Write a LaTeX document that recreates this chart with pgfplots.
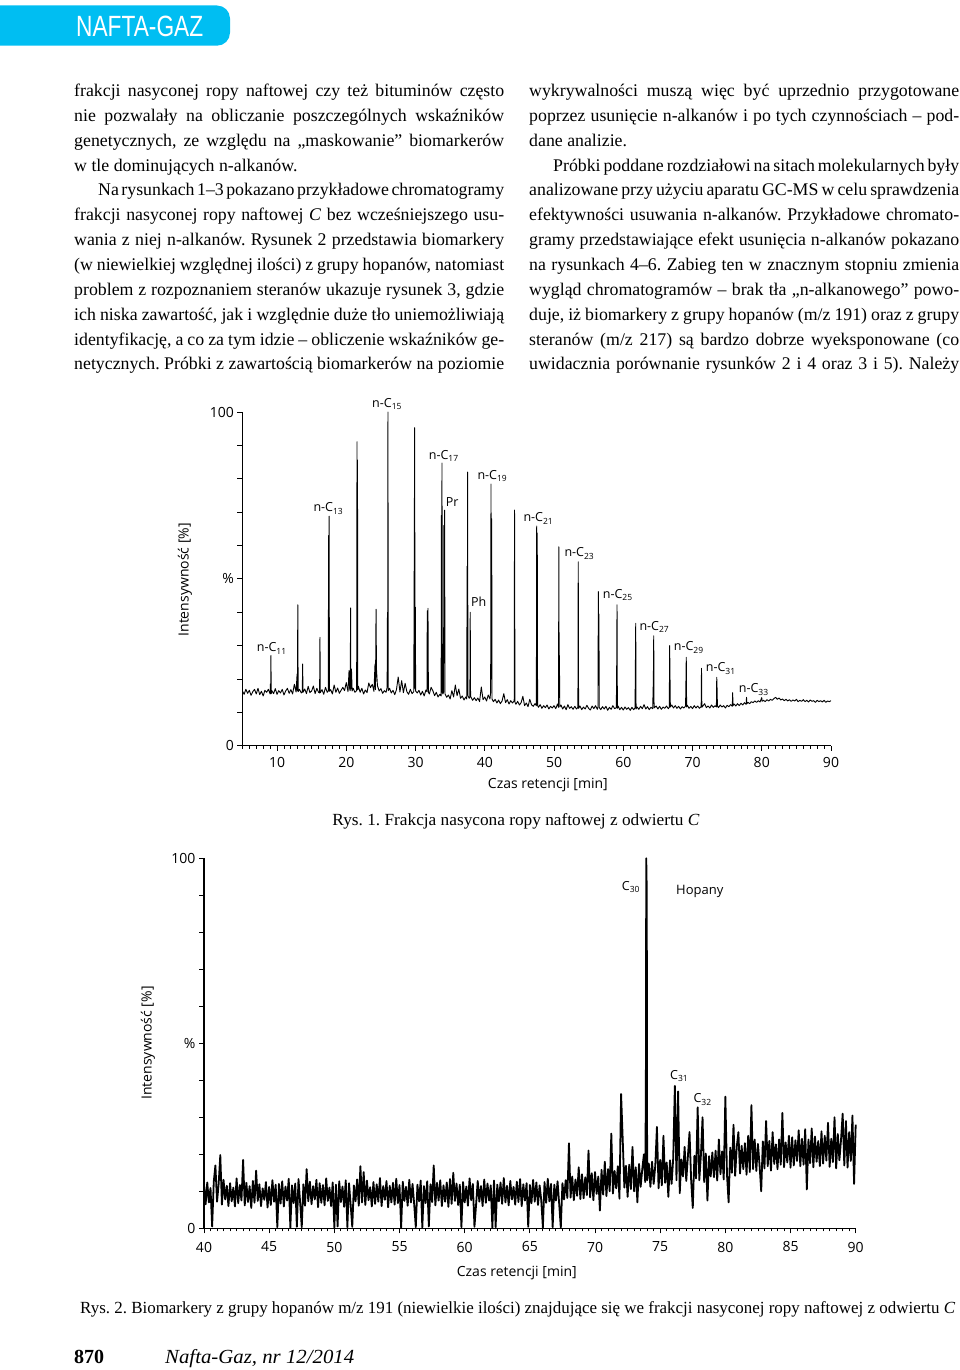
\documentclass[border=0pt]{standalone}
\usepackage{fontspec}
\setmainfont{Liberation Serif}
\newfontfamily\osans{Open Sans}
\newfontfamily\hdrfont{Liberation Sans}
\usepackage{graphicx}
\usepackage{pgfplots}
\pgfplotsset{compat=1.18}
\definecolor{nafta}{RGB}{0,190,242}

\newcommand\jline[1]{\hbox to 430pt{#1}}
\newcommand\lline[1]{\hbox{#1}}
\newcommand\sub[1]{\raisebox{-2.6pt}{\fontsize{8.5}{9}\selectfont #1}}
\newcommand\lab{\osans\fontsize{12.5}{14}\selectfont}
\newcommand\bodyfont{\fontsize{17.8}{24.85}\selectfont\frenchspacing
  \spaceskip=.25em plus .2em minus .12em\relax
  \lineskiplimit=-100pt \hsize=430pt}

\pgfplotsset{
  chrom/.style={
    scale only axis, axis lines=left,
    axis line style={-, line width=1.1pt},
    tick align=outside, tick style={black, line width=0.9pt},
    major tick length=5pt, minor tick length=3pt,
    ymin=0, ymax=100, ytick={0,10,...,100},
    yticklabels={0,{},{},{},{},\%,{},{},{},{},100},
    ticklabel style={font=\osans\fontsize{14}{16}\selectfont},
    /pgf/number format/assume math mode=true,
    label style={font=\osans\fontsize{14}{16}\selectfont},
    clip=false,
  }
}

\begin{document}
\frenchspacing
\begin{tikzpicture}
\path[use as bounding box] (0,0) rectangle (960pt,-1370pt);

% header
\fill[nafta, rounded corners=13pt] (-30pt,-5.5pt) rectangle (230pt,-45.7pt);
\node[anchor=base west, inner sep=0, text=white] at (76pt,-36.7pt)
  {\resizebox{127pt}{\height}{\fontsize{29.3}{30}\hdrfont NAFTA-GAZ}};

% left column
\node[anchor=base west, inner sep=0] at (74pt,-96.5pt) {\vtop{\bodyfont
\jline{frakcji nasyconej ropy naftowej czy też bituminów często}
\jline{nie pozwalały na obliczanie poszczególnych wskaźników}
\jline{genetycznych, ze względu na „maskowanie” biomarkerów}
\lline{w tle dominujących n-alkanów.}
\jline{\hskip24pt Na rysunkach 1–3 pokazano przykładowe chromatogramy}
\jline{frakcji nasyconej ropy naftowej \textit{C} bez wcześniejszego usu-}
\jline{wania z niej n-alkanów. Rysunek 2 przedstawia biomarkery}
\jline{(w niewielkiej względnej ilości) z grupy hopanów, natomiast}
\jline{problem z rozpoznaniem steranów ukazuje rysunek 3, gdzie}
\jline{ich niska zawartość, jak i względnie duże tło uniemożliwiają}
\jline{identyfikację, a co za tym idzie – obliczenie wskaźników ge-}
\jline{netycznych. Próbki z zawartością biomarkerów na poziomie}}};

% right column
\node[anchor=base west, inner sep=0] at (529pt,-96.5pt) {\vtop{\bodyfont
\jline{wykrywalności muszą więc być uprzednio przygotowane}
\jline{poprzez usunięcie n-alkanów i po tych czynnościach – pod-}
\lline{dane analizie.}
\jline{\hskip24pt Próbki poddane rozdziałowi na sitach molekularnych były}
\jline{analizowane przy użyciu aparatu GC-MS w celu sprawdzenia}
\jline{efektywności usuwania n-alkanów. Przykładowe chromato-}
\jline{gramy przedstawiające efekt usunięcia n-alkanów pokazano}
\jline{na rysunkach 4–6. Zabieg ten w znacznym stopniu zmienia}
\jline{wygląd chromatogramów – brak tła „n-alkanowego” powo-}
\jline{duje, iż biomarkery z grupy hopanów (m/z 191) oraz z grupy}
\jline{steranów (m/z 217) są bardzo dobrze wyeksponowane (co}
\jline{uwidacznia porównanie rysunków 2 i 4 oraz 3 i 5). Należy}}};

% ---------- Rys. 1 ----------
\begin{axis}[chrom,
  at={(242.4pt,-745.7pt)}, anchor=south west,
  width=588.6pt, height=333.7pt,
  xmin=5, xmax=90,
  xtick={10,20,...,90}, minor xtick={5,6,...,90},
  xticklabel style={yshift=-3pt},
  xlabel={Czas retencji [min]}, ylabel={Intensywność [\%]},
  xlabel style={at={(axis description cs:0.519,-0.118)}, anchor=center},
  ylabel style={at={(axis description cs:-0.0975,0.497)}, anchor=center},
]
\addplot[black, line width=0.9pt, line join=round, mark=none] coordinates {
(5.00,16.4)(5.25,15.4)(5.50,16.9)(5.75,15.7)(6.00,16.6)(6.25,15.1)(6.50,16.2)(6.75,16.9)
(7.00,15.5)(7.25,17.2)(7.50,15.3)(7.75,16.3)(8.00,14.9)(8.25,16.6)(8.50,16.0)(8.75,16.9)
(9.00,15.5)(9.05,18.5)(9.08,15.8)(9.12,27.0)(9.16,15.6)(9.25,16.5)(9.50,15.6)(9.75,17.1)
(10.00,15.4)(10.25,16.5)(10.50,15.8)(10.75,16.9)(11.00,15.2)(11.25,16.4)(11.50,17.2)(11.75,15.7)
(12.00,16.8)(12.25,15.5)(12.50,18.4)(12.75,16.1)(12.90,21.5)(12.95,16.5)(13.00,42.2)(13.05,16.2)
(13.25,16.9)(13.50,15.8)(13.65,16.2)(13.70,24.5)(13.75,16.0)(14.00,17.0)(14.25,15.6)(14.50,17.8)
(14.75,15.9)(15.00,16.4)(15.25,17.9)(15.50,15.6)(15.75,17.2)(16.00,16.0)(16.15,15.8)(16.20,32.5)
(16.25,15.9)(16.50,16.8)(16.75,15.4)(17.00,17.5)(17.25,16.0)(17.40,16.4)(17.45,63.0)(17.48,18.0)
(17.52,68.8)(17.57,16.3)(17.75,16.8)(18.00,15.5)(18.25,18.2)(18.50,16.0)(18.75,17.3)(19.00,15.7)
(19.25,16.6)(19.50,17.5)(19.75,16.5)(20.00,18.9)(20.25,16.2)(20.40,22.5)(20.50,16.8)(20.58,16.5)
(20.62,41.3)(20.66,17.0)(20.75,23.0)(20.85,16.4)(21.00,17.2)(21.25,16.0)(21.50,16.5)(21.55,91.1)
(21.58,20.0)(21.62,85.6)(21.66,16.8)(21.75,17.8)(22.00,16.0)(22.25,17.2)(22.50,15.5)(22.75,16.7)
(23.00,15.9)(23.25,18.8)(23.50,17.4)(23.75,18.4)(24.00,16.3)(24.15,24.5)(24.22,16.8)(24.30,40.9)
(24.36,23.0)(24.50,18.0)(24.75,16.4)(25.00,17.1)(25.25,15.7)(25.50,16.5)(25.75,16.0)(25.90,17.5)
(25.95,40.0)(25.98,18.0)(26.02,100.0)(26.06,16.5)(26.25,17.2)(26.50,15.8)(26.75,16.6)(27.00,15.3)
(27.25,16.8)(27.50,20.6)(27.75,16.1)(28.00,19.5)(28.25,15.9)(28.50,18.7)(28.75,16.2)(29.00,15.4)
(29.25,16.9)(29.50,15.6)(29.75,16.2)(29.88,95.3)(29.92,17.0)(29.97,41.5)(30.02,16.4)(30.25,15.8)
(30.50,16.6)(30.75,15.2)(31.00,16.3)(31.25,14.9)(31.50,16.7)(31.65,16.2)(31.70,40.4)(31.74,17.0)
(31.80,41.2)(31.86,16.0)(32.00,15.5)(32.25,17.5)(32.50,16.5)(32.75,15.0)(33.00,16.0)(33.25,14.6)
(33.50,15.4)(33.70,14.9)(33.74,69.0)(33.78,20.0)(33.82,84.7)(33.88,16.0)(33.95,15.5)(34.05,16.0)
(34.10,66.0)(34.14,40.0)(34.20,70.6)(34.26,15.5)(34.50,14.5)(34.75,15.2)(35.00,14.0)(35.25,16.5)
(35.50,14.6)(35.75,18.2)(36.00,15.0)(36.25,17.0)(36.50,14.2)(36.75,14.9)(37.00,13.7)(37.25,14.6)
(37.40,14.0)(37.45,53.8)(37.48,20.0)(37.52,82.0)(37.57,15.0)(37.75,14.2)(37.85,14.6)(37.90,40.0)
(37.95,14.8)(38.25,13.6)(38.50,14.4)(38.75,13.5)(39.00,14.3)(39.25,13.2)(39.50,17.6)(39.75,13.8)
(40.00,14.6)(40.25,13.4)(40.50,15.2)(40.75,14.0)(40.85,16.0)(40.90,78.4)(40.95,20.0)(41.00,68.0)
(41.05,14.0)(41.25,13.2)(41.50,13.9)(41.75,12.8)(42.00,13.7)(42.25,12.6)(42.50,13.4)(42.75,15.6)
(43.00,12.9)(43.25,13.8)(43.50,12.5)(43.75,13.5)(44.00,12.8)(44.25,13.4)(44.30,70.6)(44.36,13.0)
(44.50,12.4)(44.75,13.3)(45.00,12.2)(45.25,12.9)(45.50,14.8)(45.75,12.0)(46.00,12.8)(46.25,11.7)
(46.50,13.9)(46.75,12.3)(47.00,11.8)(47.25,12.6)(47.45,12.0)(47.50,65.8)(47.54,20.0)(47.58,63.7)
(47.63,12.1)(47.75,11.5)(48.00,12.3)(48.25,11.2)(48.50,12.0)(48.75,11.4)(49.00,12.2)(49.25,11.0)
(49.50,11.8)(49.75,11.3)(50.00,12.0)(50.25,11.1)(50.50,12.5)(50.65,11.5)(50.70,59.6)(50.74,22.0)
(50.78,27.0)(50.83,11.6)(51.00,12.2)(51.25,11.0)(51.50,11.9)(51.75,10.8)(52.00,12.3)(52.25,11.2)
(52.50,11.7)(52.75,10.9)(53.00,11.8)(53.25,11.0)(53.45,11.5)(53.50,55.1)(53.55,11.2)(53.75,11.9)
(54.00,10.8)(54.25,11.6)(54.50,11.0)(54.75,12.1)(55.00,11.2)(55.25,10.7)(55.50,11.9)(55.75,11.1)
(56.00,12.0)(56.25,10.9)(56.35,11.6)(56.40,46.2)(56.44,25.0)(56.48,39.5)(56.54,11.4)(56.75,10.8)
(57.00,11.7)(57.25,11.0)(57.50,11.8)(57.75,10.6)(58.00,11.5)(58.25,10.9)(58.50,12.0)(58.75,11.1)
(59.00,11.4)(59.05,23.0)(59.10,42.2)(59.15,11.2)(59.25,11.9)(59.50,10.8)(59.75,11.5)(60.00,10.7)
(60.25,11.6)(60.50,10.9)(60.75,11.4)(61.00,10.6)(61.25,11.5)(61.50,10.8)(61.70,11.3)(61.75,23.0)
(61.80,36.7)(61.85,11.0)(62.00,11.6)(62.25,10.9)(62.50,11.8)(62.75,11.1)(63.00,12.3)(63.25,11.0)
(63.50,11.7)(63.75,10.8)(64.00,11.5)(64.25,11.1)(64.35,20.0)(64.40,32.9)(64.45,11.3)(64.75,11.9)
(65.00,11.0)(65.25,11.8)(65.50,10.9)(65.75,11.6)(66.00,11.2)(66.25,11.9)(66.50,11.1)(66.65,11.5)
(66.70,30.0)(66.75,21.0)(66.80,11.6)(67.00,12.2)(67.25,11.3)(67.50,12.0)(67.75,11.2)(68.00,11.8)
(68.25,11.0)(68.50,11.7)(68.75,11.3)(69.00,11.9)(69.05,19.0)(69.10,26.5)(69.15,11.6)(69.25,12.1)
(69.50,11.2)(69.75,11.8)(70.00,11.1)(70.25,12.0)(70.50,11.3)(70.75,11.9)(71.00,11.2)(71.25,11.7)
(71.30,23.2)(71.35,11.5)(71.50,11.9)(71.75,12.6)(72.00,11.4)(72.25,11.9)(72.50,11.3)(72.75,12.2)
(73.00,11.5)(73.25,12.0)(73.45,11.6)(73.50,20.5)(73.55,17.0)(73.60,11.9)(73.75,11.4)(74.00,12.2)
(74.25,11.6)(74.50,12.0)(74.75,11.3)(75.00,12.1)(75.25,11.7)(75.50,12.3)(75.75,11.8)(75.80,15.9)
(75.85,12.0)(76.00,12.5)(76.25,11.9)(76.50,12.6)(76.75,12.0)(77.00,12.7)(77.25,12.2)(77.50,12.9)
(77.75,12.4)(77.80,14.5)(77.85,12.6)(78.00,13.0)(78.25,12.6)(78.50,13.2)(78.75,12.9)(79.00,13.4)
(79.25,13.0)(79.50,13.5)(79.75,13.1)(80.00,14.4)(80.05,13.3)(80.25,13.6)(80.50,13.2)(80.75,13.8)
(81.00,13.4)(81.25,13.9)(81.50,13.6)(81.75,14.1)(82.00,14.5)(82.25,13.9)(82.50,14.3)(82.75,13.7)
(83.00,14.0)(83.25,13.5)(83.50,13.9)(83.75,13.4)(84.00,13.8)(84.25,13.3)(84.50,13.7)(84.75,13.4)
(85.00,13.9)(85.25,13.2)(85.50,13.6)(85.75,13.3)(86.00,13.8)(86.25,13.2)(86.50,13.6)(86.75,13.1)
(87.00,13.7)(87.25,13.3)(87.50,13.5)(87.75,13.0)(88.00,13.6)(88.25,13.2)(88.50,13.5)(88.75,13.1)
(89.00,13.6)(89.25,13.0)(89.50,13.4)(89.75,13.2)(90.00,13.5)
};
\end{axis}

% peak labels, Rys. 1
\begin{scope}[every node/.style={anchor=base west, inner sep=0, font=\lab}]
\node at (256.7pt,-651.7pt) {n-C\sub{11}};
\node at (313.3pt,-511.7pt) {n-C\sub{13}};
\node at (372pt,-407.3pt) {n-C\sub{15}};
\node at (428.7pt,-459pt) {n-C\sub{17}};
\node at (445.7pt,-506.7pt) {Pr};
\node at (477.3pt,-479pt) {n-C\sub{19}};
\node at (471pt,-606.7pt) {Ph};
\node at (523.3pt,-521.7pt) {n-C\sub{21}};
\node at (564.3pt,-556.7pt) {n-C\sub{23}};
\node at (602.7pt,-598.3pt) {n-C\sub{25}};
\node at (639.3pt,-630pt) {n-C\sub{27}};
\node at (673.7pt,-650.7pt) {n-C\sub{29}};
\node at (705.7pt,-671.7pt) {n-C\sub{31}};
\node at (738.7pt,-692.7pt) {n-C\sub{33}};
\end{scope}

\node[anchor=base, inner sep=0] at (516pt,-825pt)
  {\resizebox{367pt}{\height}{\fontsize{17}{20}\selectfont Rys. 1. Frakcja nasycona ropy naftowej z odwiertu \textit{C}}};

% ---------- Rys. 2 ----------
\begin{axis}[chrom,
  at={(204pt,-1228.3pt)}, anchor=south west,
  width=651.7pt, height=370pt,
  xmin=40, xmax=90,
  xtick={40,45,...,90}, minor xtick={40,40.5,...,90},
  xticklabel style={yshift=-5pt},
  xlabel={Czas retencji [min]}, ylabel={Intensywność [\%]},
  xlabel style={at={(axis description cs:0.480,-0.121)}, anchor=center},
  ylabel style={at={(axis description cs:-0.0859,0.501)}, anchor=center},
]
\addplot[black, line width=1.8pt, line join=round, mark=none] coordinates {
(40,11.8)(40.125,6.5)(40.25,12.4)(40.375,7.0)(40.5,10.9)(40.625,0.5)(40.75,12.6)(40.875,17.0)
(41,7.2)(41.125,12.0)(41.25,19.8)(41.375,6.4)(41.5,13.1)(41.625,7.8)(41.75,11.5)(41.875,6.0)
(42,12.2)(42.125,7.3)(42.25,11.0)(42.375,5.9)(42.5,13.5)(42.625,6.8)(42.75,11.7)(42.875,7.5)
(43,18.5)(43.125,6.2)(43.25,12.3)(43.375,7.1)(43.5,11.4)(43.625,5.5)(43.75,12.8)(43.875,6.9)
(44,15.6)(44.125,7.4)(44.25,11.9)(44.375,6.0)(44.5,10.8)(44.625,7.7)(44.75,12.5)(44.875,5.6)
(45,11.2)(45.125,6.3)(45.25,13.0)(45.375,7.2)(45.5,11.8)(45.625,0.3)(45.75,12.0)(45.875,6.7)
(46,12.7)(46.125,5.9)(46.25,11.3)(46.375,7.5)(46.5,13.4)(46.625,0.2)(46.75,11.6)(46.875,6.8)
(47,12.1)(47.125,0.4)(47.25,13.3)(47.375,7.0)(47.5,0.3)(47.625,11.9)(47.75,6.1)(47.875,16.0)
(48,7.3)(48.125,12.6)(48.25,6.5)(48.375,11.4)(48.5,7.8)(48.625,13.1)(48.75,5.7)(48.875,12.2)
(49,6.9)(49.125,11.7)(49.25,6.2)(49.375,13.5)(49.5,7.4)(49.625,11.0)(49.75,6.0)(49.875,12.4)
(50,0.2)(50.125,11.8)(50.25,0.5)(50.375,12.7)(50.5,7.1)(50.625,11.3)(50.75,5.8)(50.875,13.0)
(51,0.3)(51.125,12.2)(51.25,6.4)(51.375,0.4)(51.5,11.6)(51.625,7.3)(51.75,13.2)(51.875,6.1)
(52,16.8)(52.125,7.0)(52.25,15.2)(52.375,6.3)(52.5,12.9)(52.625,7.6)(52.75,11.1)(52.875,5.9)
(53,12.5)(53.125,6.6)(53.25,11.9)(53.375,7.2)(53.5,13.6)(53.625,6.0)(53.75,11.4)(53.875,7.7)
(54,12.8)(54.125,5.7)(54.25,11.5)(54.375,7.0)(54.5,12.3)(54.625,6.4)(54.75,13.4)(54.875,6.8)
(55,11.7)(55.125,0.2)(55.25,12.6)(55.375,7.4)(55.5,11.2)(55.625,6.1)(55.75,13.1)(55.875,7.0)
(56,12.0)(56.125,6.5)(56.25,0.3)(56.375,11.8)(56.5,7.3)(56.625,12.9)(56.75,0.2)(56.875,11.4)
(57,6.8)(57.125,12.7)(57.25,0.5)(57.375,11.9)(57.5,7.1)(57.625,17.0)(57.75,6.2)(57.875,12.3)
(58,7.5)(58.125,13.0)(58.25,6.0)(58.375,11.6)(58.5,7.2)(58.625,12.4)(58.75,5.8)(58.875,13.3)
(59,6.6)(59.125,15.0)(59.25,7.4)(59.375,12.1)(59.5,6.3)(59.625,11.8)(59.75,0.3)(59.875,12.5)
(60,7.0)(60.125,11.3)(60.25,6.1)(60.375,13.5)(60.5,7.6)(60.625,12.0)(60.75,0.4)(60.875,6.4)
(61,12.8)(61.125,7.2)(61.25,11.4)(61.375,6.0)(61.5,13.2)(61.625,6.9)(61.75,12.1)(61.875,7.5)
(62,11.6)(62.125,0.2)(62.25,12.9)(62.375,0.3)(62.5,11.8)(62.625,7.3)(62.75,12.4)(62.875,6.6)
(63,13.6)(63.125,7.0)(63.25,11.5)(63.375,6.2)(63.5,12.8)(63.625,7.8)(63.75,11.2)(63.875,6.4)
(64,12.6)(64.125,7.1)(64.25,13.3)(64.375,6.0)(64.5,11.9)(64.625,7.5)(64.75,12.2)(64.875,0.4)
(65,11.7)(65.125,6.8)(65.25,13.1)(65.375,7.2)(65.5,12.4)(65.625,6.3)(65.75,11.6)(65.875,7.6)
(66,0.2)(66.125,12.5)(66.25,6.9)(66.375,13.4)(66.5,7.3)(66.625,12.0)(66.75,0.3)(66.875,11.8)
(67,7.5)(67.125,12.7)(67.25,6.6)(67.375,0.2)(67.5,12.2)(67.625,7.8)(67.75,13.0)(67.875,8.2)
(68,23.0)(68.125,8.3)(68.25,14.0)(68.375,7.6)(68.5,13.2)(68.625,8.8)(68.75,16.5)(68.875,7.9)
(69,14.6)(69.125,8.1)(69.25,13.8)(69.375,9.0)(69.5,21.0)(69.625,8.4)(69.75,14.9)(69.875,7.6)
(70,15.2)(70.125,9.3)(70.25,14.0)(70.375,4.8)(70.5,15.8)(70.625,9.1)(70.75,18.0)(70.875,8.7)
(71,16.0)(71.125,10.0)(71.25,25.6)(71.375,9.4)(71.5,15.5)(71.625,10.8)(71.75,16.8)(71.875,8.0)
(72,36.3)(72.125,24.0)(72.25,11.0)(72.375,16.9)(72.5,8.5)(72.625,17.2)(72.75,10.6)(72.875,22.0)
(73,10.0)(73.125,16.5)(73.25,7.0)(73.375,17.4)(73.5,11.2)(73.625,16.0)(73.75,20.0)(73.85,12.5)
(73.9,36.0)(73.93,100)(73.97,91.0)(74,13.0)
(74.125,17.5)(74.25,11.2)(74.375,18.0)(74.5,12.0)(74.625,17.0)(74.75,27.4)(74.875,10.8)
(75,18.5)(75.125,11.6)(75.25,25.0)(75.375,12.3)(75.5,17.8)(75.625,8.5)(75.75,18.4)(75.875,12.0)
(76,19.0)(76.125,38.5)(76.25,13.0)(76.375,37.0)(76.5,9.5)(76.625,18.6)(76.75,14.0)(76.875,22.0)
(77,12.8)(77.125,19.4)(77.25,26.0)(77.375,13.0)(77.5,5.5)(77.625,19.6)(77.75,13.5)(77.875,32.7)
(78,13.0)(78.125,19.8)(78.25,30.0)(78.375,12.5)(78.5,20.2)(78.625,7.5)(78.75,19.5)(78.875,14.0)
(79,20.5)(79.125,13.8)(79.25,21.0)(79.375,12.9)(79.5,24.0)(79.625,14.6)(79.75,20.8)(79.875,13.2)
(80,35.6)(80.125,14.5)(80.25,7.0)(80.375,21.8)(80.5,15.0)(80.625,28.0)(80.75,14.2)(80.875,22.0)
(81,26.0)(81.125,14.8)(81.25,22.3)(81.375,16.0)(81.5,23.0)(81.625,14.5)(81.75,25.0)(81.875,15.2)
(82,33.3)(82.125,16.0)(82.25,24.0)(82.375,15.5)(82.5,22.8)(82.625,17.0)(82.75,10.0)(82.875,23.5)
(83,16.2)(83.125,29.0)(83.25,16.8)(83.375,23.6)(83.5,15.6)(83.625,26.0)(83.75,17.4)(83.875,22.7)
(84,16.0)(84.125,24.0)(84.25,17.2)(84.375,31.2)(84.5,16.5)(84.625,23.2)(84.75,17.8)(84.875,25.0)
(85,16.4)(85.125,24.6)(85.25,17.0)(85.375,23.8)(85.5,18.2)(85.625,26.5)(85.75,16.8)(85.875,24.2)
(86,17.2)(86.125,26.8)(86.25,10.5)(86.375,24.0)(86.5,17.6)(86.625,27.0)(86.75,16.5)(86.875,24.8)
(87,18.0)(87.125,23.6)(87.25,16.8)(87.375,26.2)(87.5,17.5)(87.625,25.0)(87.75,18.3)(87.875,28.5)
(88,16.6)(88.125,24.2)(88.25,17.9)(88.375,30.0)(88.5,16.2)(88.625,25.5)(88.75,18.4)(88.875,24.0)
(89,31.0)(89.125,17.0)(89.25,29.0)(89.375,16.4)(89.5,26.0)(89.625,18.2)(89.75,30.5)(89.875,12.0)
(90,28.0)
};
\end{axis}

\begin{scope}[every node/.style={anchor=base west, inner sep=0, font=\lab}]
\node at (621.7pt,-890pt) {C\sub{30}};
\node[font=\osans\fontsize{13}{14}\selectfont] at (676pt,-894pt) {Hopany};
\node at (670pt,-1079.3pt) {C\sub{31}};
\node at (693.3pt,-1102.7pt) {C\sub{32}};
\end{scope}

\node[anchor=base west, inner sep=0] at (80pt,-1313pt)
  {\resizebox{875pt}{\height}{\fontsize{17}{20}\selectfont Rys. 2. Biomarkery z grupy hopanów m/z 191 (niewielkie ilości) znajdujące się we frakcji nasyconej ropy naftowej z odwiertu \textit{C}}};

% footer
\node[anchor=base west, inner sep=0] at (74pt,-1363pt) {\fontsize{20}{22}\selectfont\bfseries 870};
\node[anchor=base west, inner sep=0] at (165pt,-1363pt)
  {\resizebox{189pt}{\height}{\fontsize{20}{22}\selectfont\itshape Nafta-Gaz, nr 12/2014}};
\end{tikzpicture}
\end{document}
